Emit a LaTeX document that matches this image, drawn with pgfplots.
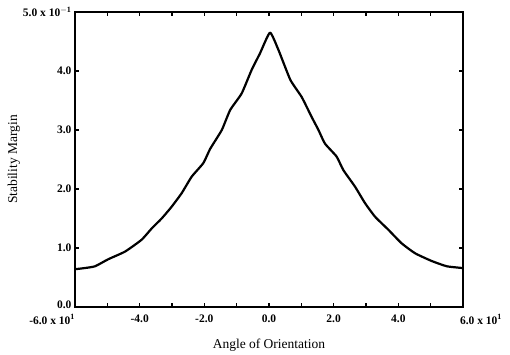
\documentclass[border=0pt]{standalone}
\usepackage{fontspec}
\setmainfont{Liberation Serif}
\usepackage{pgfplots}
\pgfplotsset{compat=1.18}
\begin{document}
\begin{tikzpicture}
\begin{axis}[
  at={(0,0)}, anchor=south west,
  scale only axis, width=388pt, height=295pt,
  xmin=-60, xmax=60, ymin=0, ymax=0.5,
  axis line style={line width=1.6pt},
  xtick={-60,-40,-20,0,20,40,60},
  xticklabels={\makebox[0pt][r]{-6.0 x 10$^{\mathbf{1}}$},-4.0,-2.0,0.0,2.0,4.0,\makebox[0pt][l]{\hspace{-3pt}6.0 x 10$^{\mathbf{1}}$}},
  minor xtick={-50,-30,-10,10,30,50},
  ytick={0,0.1,0.2,0.3,0.4,0.5},
  yticklabels={\raisebox{5pt}{0.0},1.0,2.0,3.0,4.0,{5.0 x 10$^{\mathbf{-1}}$}},
  major tick length=4pt, minor tick length=4pt,
  every tick/.style={black, line width=1.4pt},
  tick label style={font=\fontsize{11.5}{13}\selectfont\bfseries},
  xticklabel style={yshift=-4pt},
  xlabel={Angle of Orientation},
  ylabel={Stability Margin},
  label style={font=\fontsize{13.5}{15}\selectfont},
  xlabel style={yshift=-8pt},
  ylabel style={yshift=-4pt},
]
\addplot[black, line width=2.2pt, line join=round, smooth, tension=0.3] coordinates {
(-60,0.064) (-57,0.066) (-53.8,0.069) (-49.7,0.081) (-44.5,0.094) (-39.4,0.114)
(-36.3,0.133) (-33.2,0.150) (-30.1,0.170) (-27.0,0.193) (-23.9,0.221) (-20.3,0.244)
(-18.2,0.268) (-14.6,0.300) (-12.0,0.334) (-8.45,0.362) (-5.36,0.402) (-2.78,0.430)
(0.3,0.465) (2.9,0.436) (6.6,0.385) (10.1,0.356) (13.2,0.322) (15.3,0.300)
(17.3,0.277) (20.9,0.255) (23.0,0.232) (26.6,0.204) (29.7,0.176) (32.8,0.153)
(36.9,0.131) (41.0,0.108) (45.2,0.091) (50.3,0.078) (55.0,0.069) (60,0.066)
};
\end{axis}
\pgfresetboundingbox
\path[use as bounding box] (-75pt,-48pt) rectangle (435pt,307pt);
\end{tikzpicture}
\end{document}
